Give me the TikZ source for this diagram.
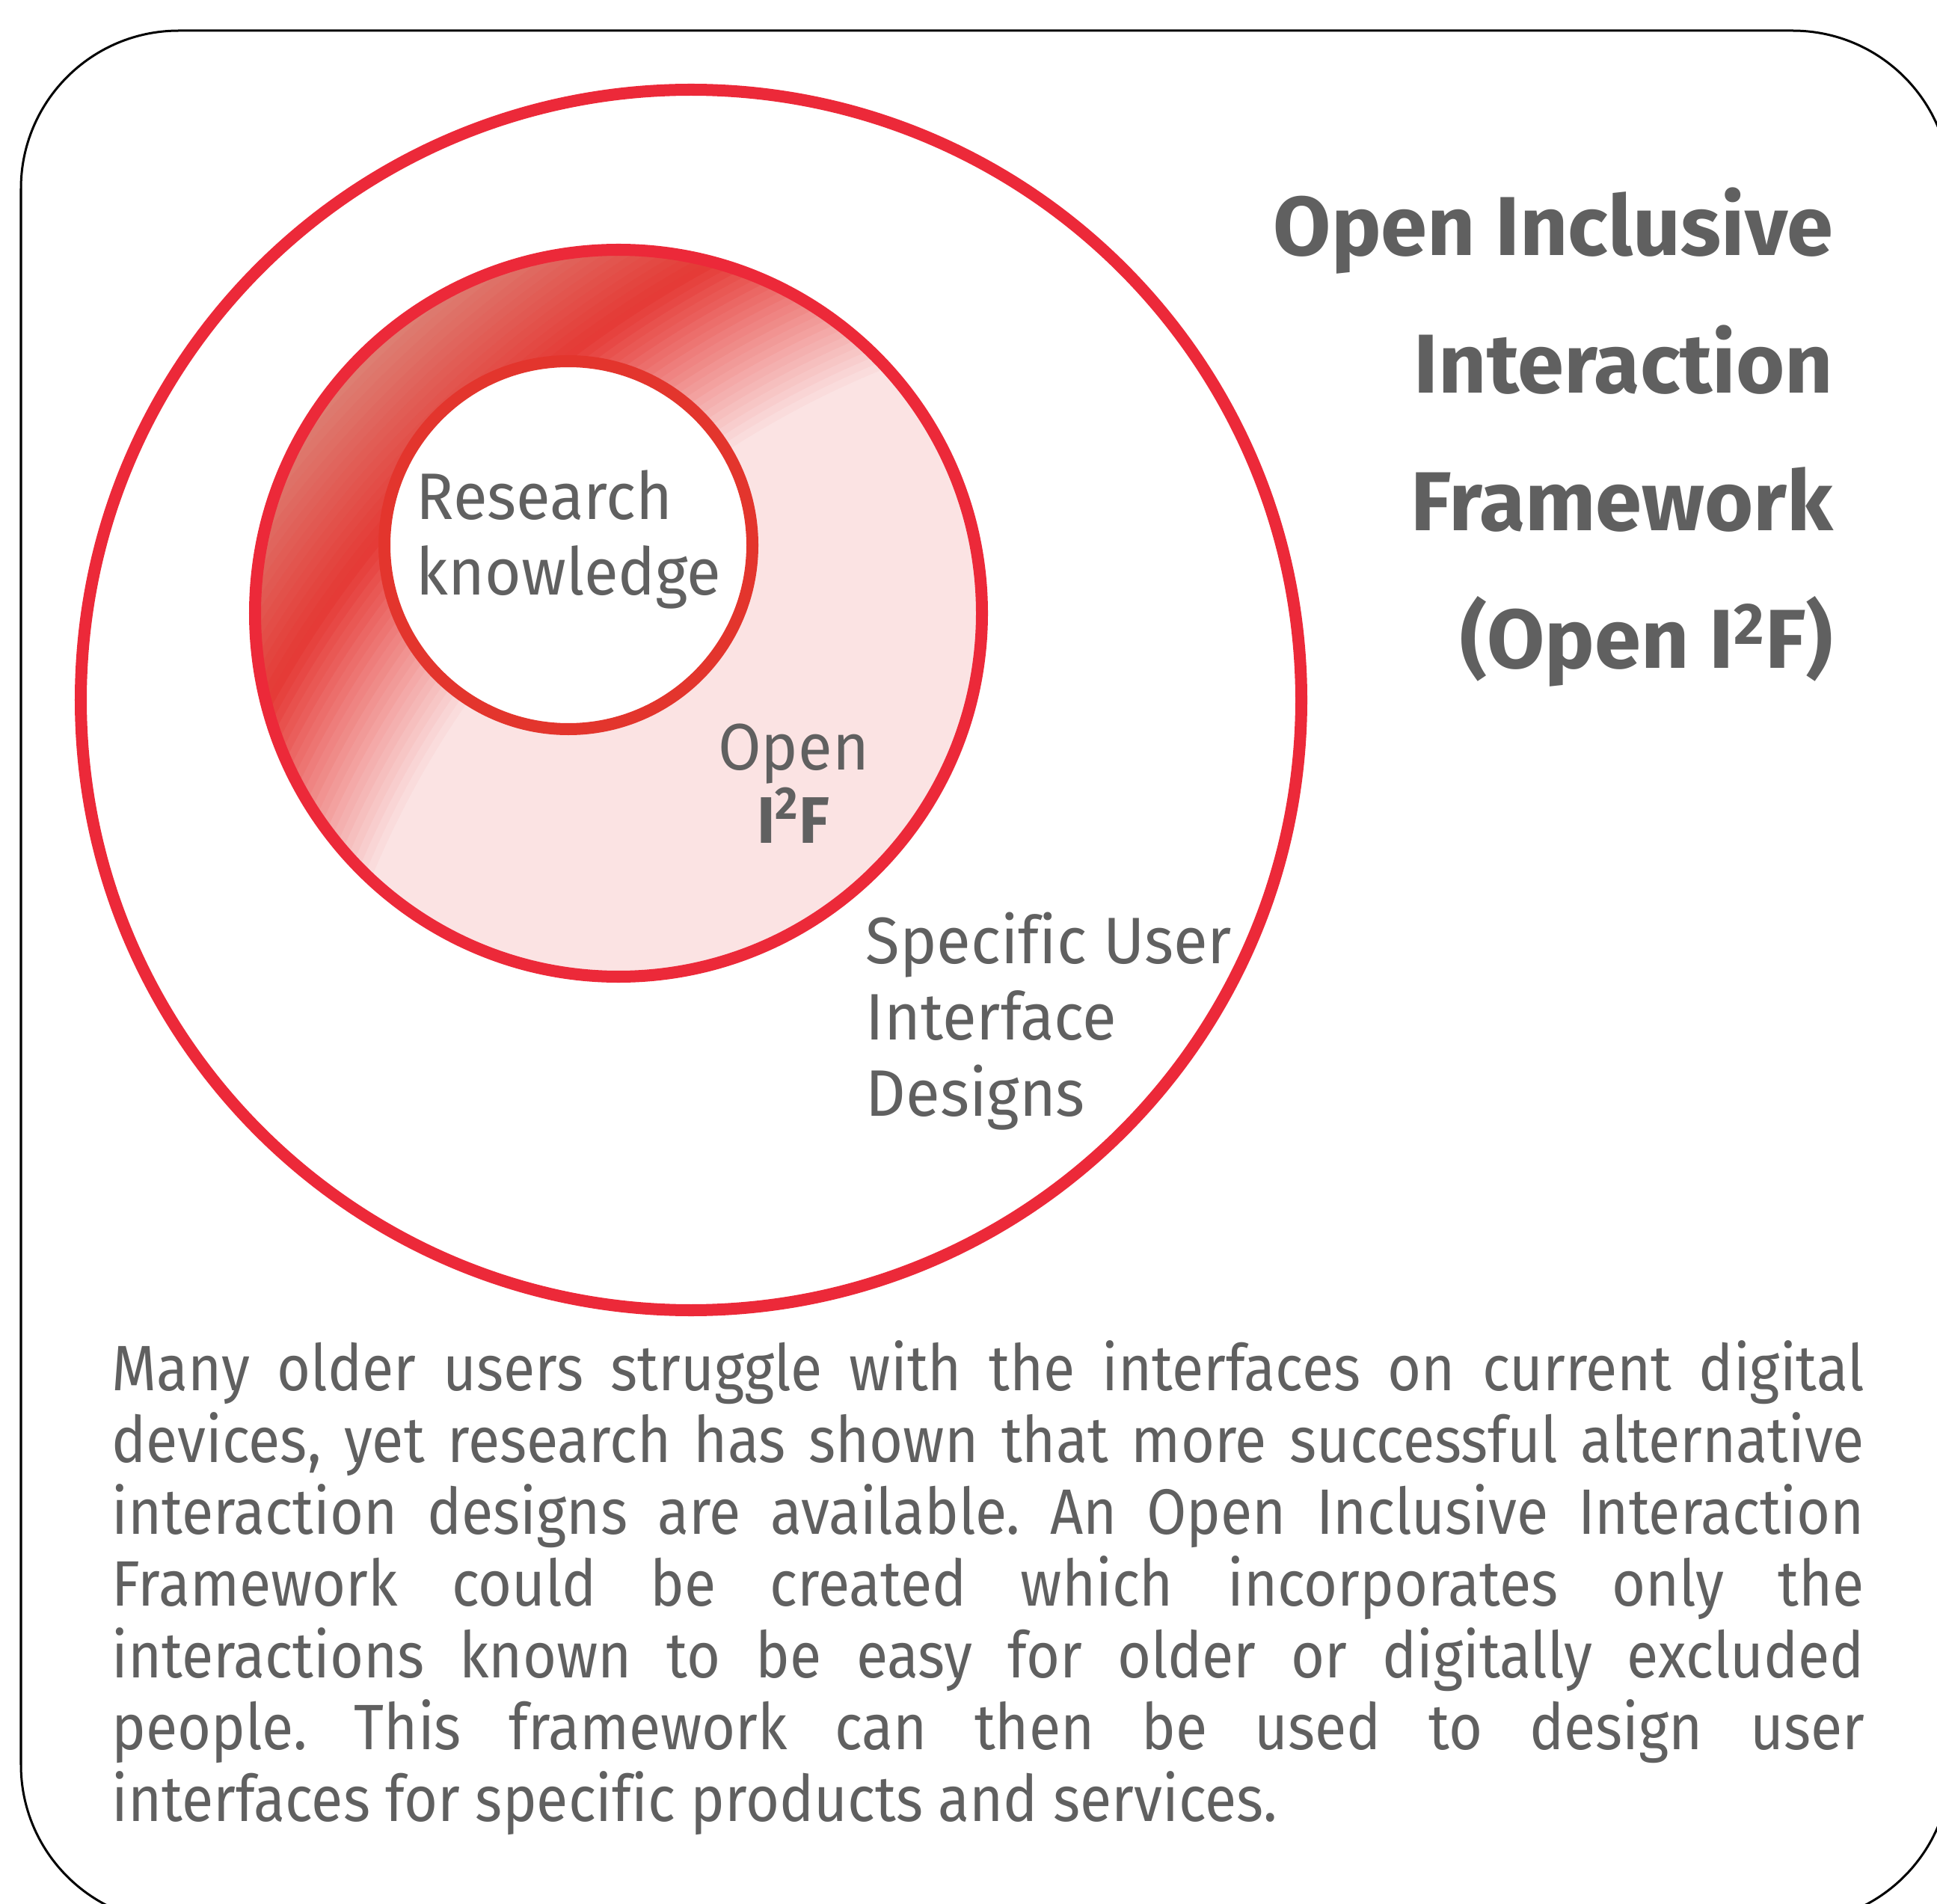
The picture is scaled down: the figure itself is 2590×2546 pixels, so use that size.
\documentclass[tikz,border=0pt]{standalone}
\usepackage{fontspec}
\setmainfont{Fira Sans}
\newfontfamily\labelfont{Fira Sans}[FakeStretch=0.95, Ligatures=NoCommon]
\newfontfamily\parafont{Fira Sans}[FakeStretch=0.9, Ligatures=NoCommon]
\definecolor{ringred}{RGB}{236,41,57}
\definecolor{corered}{RGB}{227,53,45}
\definecolor{bandred}{RGB}{229,57,53}
\definecolor{bandgrey}{RGB}{220,130,118}
\definecolor{ringpink}{RGB}{251,227,227}
\definecolor{textgrey}{RGB}{96,96,96}

\begin{document}
\begin{tikzpicture}[x=0.01cm, y=-0.01cm,
    ring/.style={draw=ringred, line width=0.16cm},
    lbl/.style={text=textgrey, inner sep=0pt, font=\labelfont\fontsize{25}{29}\selectfont},
    ttl/.style={text=textgrey, inner sep=0pt, font=\fontsize{31.8}{52.3}\selectfont\bfseries},
    para/.style={text=textgrey, inner sep=0pt, font=\parafont\fontsize{24.4}{27.3}\selectfont,
        text width=23.42cm, align=justify}]
    \useasboundingbox (0,0) rectangle (2590,2546);
    \clip (0,0) rectangle (2590,2546);
    \coordinate (C) at (924,936);
    \coordinate (M) at (827,820);
    \coordinate (K) at (760,729);
    \coordinate (G) at (1652,1652);

    % frame
    \draw[line width=0.03cm, rounded corners=2.11cm] (28,41) rectangle (2608,2571);

    % shaded ring of the framework
    \begin{scope}
        \clip (M) circle[radius=486];
        \fill[ringpink] (M) circle[radius=486];
        \foreach \r in {1700,1690,...,1250} {
            \ifnum\r>1480
                \pgfmathtruncatemacro\p{min(100,(\r-1480)/1.8)}
                \def\col{bandgrey!\p!bandred}
            \else
                \pgfmathtruncatemacro\p{(\r-1250)/2.3}
                \def\col{bandred!\p!ringpink}
            \fi
            \fill[\col] (G) circle[radius=\r];
        }
    \end{scope}
    \fill[white] (K) circle[radius=246];

    \draw[ring] (C) circle[radius=816];
    \draw[ring] (M) circle[radius=486];
    \draw[corered, line width=0.16cm] (K) circle[radius=246];

    % labels (base = last line)
    \node[lbl, anchor=base west, align=left] (research) at (556,796) {Research\\knowledge};
    \node[lbl, anchor=base, align=center, font=\labelfont\fontsize{25}{27.6}\selectfont]
        (core) at (1061,1127) {Open\\\textbf{I\textsuperscript{2}F}};
    \node[lbl, anchor=base west, align=left] (specific) at (1157,1492) {Specific User\\Interface\\Designs};

    \node[ttl, anchor=base east, align=right] (title) at (2452,893)
        {Open Inclusive\\Interaction\\Framework\\(Open I\textsuperscript{2}F)};

    \node[para, anchor=base west] (text) at (149,1859)
        {\frenchspacing\hyphenpenalty=10000 \exhyphenpenalty=10000
        Many older users struggle with the interfaces on current digital\linebreak
        devices, yet research has shown that more successful alternative\linebreak
        interaction designs are available. An Open Inclusive Interaction\linebreak
        Framework could be created which incorporates only the\linebreak
        interactions known to be easy for older or digitally excluded\linebreak
        people. This framework can then be used to design user\linebreak
        interfaces for specific products and services.};
\end{tikzpicture}
\end{document}
